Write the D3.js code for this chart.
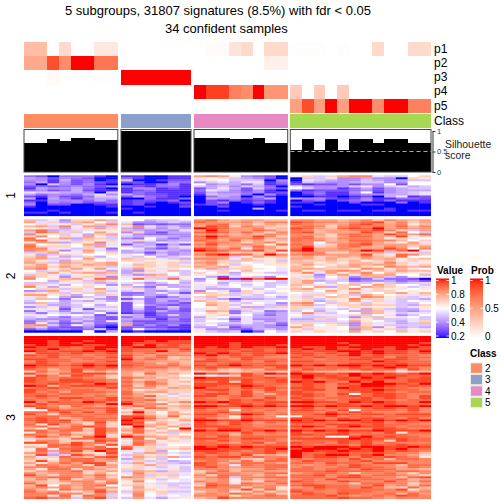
<!DOCTYPE html>
<html><head><meta charset="utf-8">
<script src="https://cdnjs.cloudflare.com/ajax/libs/d3/7.8.5/d3.min.js"></script>
<style>html,body{margin:0;padding:0;background:#fff}svg{display:block}text{font-family:"Liberation Sans",Arial,sans-serif}</style>
</head><body><div id="c"></div>
<script>
// ---------- data ----------
const titleLines = ["5 subgroups, 31807 signatures (8.5%) with fdr < 0.05", "34 confident samples"];
const classes = ["2", "3", "4", "5"];
const classCounts = [8, 6, 8, 12];
const classColors = ["#fc8d62", "#8da0cb", "#e78ac3", "#a6d854"];
const probNames = ["p1", "p2", "p3", "p4", "p5"];
const p1 = [.35,.35,0,.2,0,0,.12,.12,  0,0,0,0,0,0,  0,.02,.02,.15,.2,0,.2,.2,  .01,.01,.01,0,.01,0,0,.2,0,0,.2,.2];
const p2 = [.45,.45,.85,.6,1,1,.7,.7,  0,0,0,0,0,0,  0,0,0,0,0,0,.08,.08,  0,0,0,0,0,0,0,0,0,0,0,0];
const p3 = [0,0,.03,0,0,0,.01,.01,  1,1,1,1,1,1,  0,0,0,0,0,0,0,0,  0,0,0,0,0,0,0,0,0,0,0,0];
const p4 = [0,0,0,0,0,0,0,0,  0,0,0,0,0,0,  1,.9,.9,.65,.6,1,.55,.55,  .28,0,.28,0,.28,0,0,0,0,0,0,0];
const p5 = [0,0,0,0,0,0,0,0,  0,0,0,0,0,0,  0,0,0,0,0,0,0,0,  .5,.85,.5,1,.5,1,1,.6,1,1,.65,.65];
const silhouette = [.7,.7,.8,.755,.83,.83,.78,.78,  .99,.99,.99,.99,.99,.99,  .83,.83,.83,.8,.8,.83,.71,.71,  .54,.8,.54,.8,.54,.8,.8,.71,.8,.8,.71,.71];
const blockNames = ["1", "2", "3"];
// heat values, one letter per sample: a=0.20, b=0.25 ... i=0.60 ... q=1.00
const block1 = [
"dcadddba bbaabb mnmjedca jkgkmnnhggik",
"fecedcaa dbaabb hihgfeca aggheefeeakj",
"eebfcdab gaabcc hjigggae ahgfeegfefgg",
"dfbecdcb ccaadd eghfhhbd bgfeefggeeii",
"eageceba abbdeb ieffdgbc cbcceceeicii",
"cdcdedce dcbddb gfgegfda hfeeegheghfg",
"bfeefdba beebcb cfhfcgdc igeebdfcefgg",
"decdfcbb bcdbbb dhgeceba dbcccdecefff",
"hggffeag bdcbbb cfeedebc acdbbeibefgh",
"fdeedfhe fdccbb bgffdaeb abdbbdeeffgh",
"cbeccdgg cfdcba adfeaeba aabbabcafhbc",
"fafdbeff aadbbd afeecdfa feecbcebbddc",
"bbeeedfd bcccda acbdbcba acdacdebdbbb",
"daedeccd bcbabc aceabdba bbaaacaaadab",
"eaccaabb bcaaab bcbaabaa aabaaabbaaaa",
"baaaaaab aabaac aacaaaaa baaaaaaaaaaa",
"aaaaaaaa baaaaa aaaaafaa aaaaaaaabaaa",
"aabaaaaa aaaaaa aabaaaab abbabbabbabb",
"bbabaaab abaaaa aaaaaaaa aaaaaaaaaaaa",
"aaaaaaaa aaaaaa aaaaaaaa aaaaaaaaaaaa"];
const block2 = [
"lghekkml iifggh nomlmmll nnmmlmnlnmlm",
"mhkflmig heefgf onmmnlnn ponnmnoplnkm",
"ikhjgjln lcdcdd mnolmkml onmlmopnmnjl",
"lmgnjmfg hnhfge mpoknmlk nonknonomoln",
"jjkfhkmk fegegf qpommnkl pomlopoqmnmm",
"mofgkhjj lfefeh mqnmmonl onlmmnopnkgm",
"gomkgimh ekecff opomomkn oplmmmpnkoig",
"njjgjfkm heddee mnmlmlnm nmmknonmpnmo",
"knikhmjg gfggfe oqommpnk nolkmoomlpjk",
"oikmflkg edifdf npmnnolm oomlnnnmjkhi",
"nohjgkjk gkheff onmolmkl onnlmoonnlik",
"jmmfkjnh gefhgh monmkmnk nnimmnomkjmh",
"nijhimfh cgfbfc npmmnmjo onhknopmmmlk",
"okkkikmj kfgegh mnlmlomk npklnomlnmkm",
"nnhjgkhd ihecfg pomohnmk oqmmnmmmpnin",
"nmkehmhf fgfgfe qponnplp pqmmmnqpmoqj",
"gkmijlik ffcfef mnmklkmj mnnkkmlmgkhg",
"jfgkhiij hiegef npqoolqn nonmmmpkjonk",
"kmjfgkfi hgifgh lmmgjmkl lmklmlnlkoii",
"lmgkimjh lkkhgf nnmjljjk mmkmkkmlmjkl",
"ljhfkkij kkjjjk lmkglkjg lkklkljkljkj",
"mkgmlklm ihkjkg mnkkihjk lljkjllknkhj",
"kmjlkmlm jlkjkh lmjgjijj kmkjkmlmmkjk",
"lmkmkkkg hkkjkk mlmjkiij lkiklmkjnmlm",
"mnjkmjmj gmjhhi kmgkkjih lmlkkjnmjlhi",
"ighlhjhf fekjlg ihkiliih mjkmnmjlkmll",
"jkmjlmml fkhhig kikfjjgg knhmjlnilkjh",
"gkhgjjgk gemlig hjjgiiih jjekmjmlmiil",
"mkjehkke hhgkgj ifchhgei hkfikelmgejh",
"nijlmjon jokgoj ejqcqoqq kjgjgcdgddca",
"iifkjglj iihiig fihgfhig kmfggdeefdec",
"gggjhkfg hgegif jifjhigg kmigiggjgfgk",
"lkjfihje fifefg hjgigigh lkhjklimkiig",
"nhfjjkij kfdjff hghihhgi kimfkimlkjgh",
"ikkgkhmh hkfhig hfffigij lmjjknjkjjij",
"efmhkhkg ghfegf eihekjhi kkimjkhkkiji",
"kjkgjklh ddfhfc lkjgkjgh ihhkjmjikmjl",
"mmjkfigk defehg ikkghgih jkkikgmkihhk",
"hkifeghe gieceg kljhgghf hgjlkjnmjkgh",
"hlgdjjfe cfdffe hgfcffgg jkgjjnkkjggf",
"giifgfhf ghdfdf lkjfjhhi jkfkjmjkhgih",
"flgfhjhi chdeec ilkhgihe mnigkjgjhggi",
"hkffgifj ciedcd imkgjjgf lmgjkklkkgfk",
"egheghgg chcegd ijkjffgk kkhijkhjjghj",
"hhjchchh cgccfc hjkgkghh khghgjmkgffj",
"dhgehgfg cecfdc hmldghde gifhifflhfeg",
"gdhgefic bdbddd ikjdhgef jnkgiimljghh",
"hhihihcg gfbdgd jjkhifdf ighhhkgihegi",
"ghfdgfdc dfccdd fjifhfff hggkhekljhig",
"feeefgdc feebec ghgcheef ffkgikjggghg",
"dfgdgedh ecccdc giiehgef gggghmjigfhk",
"djecdgdd fdcddd hhgghfgd kkhkgekhhfgl",
"mngdjfcb mceceb gifeffec jlijkekjgggg",
"mgdcceba cdccbb ffhcefee mkjjimlejfgf",
"cecdcdgb ciedcb heedcfge jgjjieljkgjh",
"aaaaaiaf abaaaa jgfgacig kjkjjmjkiljk"];
const block3 = [
"qqqqqqqq qqqqqq qqqqqqqq qqqqqqqqqqqq",
"qqqqqqqq qqqqqq qqqqqqqq qqqqqqqqqqqq",
"qqpqqpqq qqpqpp qqqqqqqq qqqqqqqqqqqq",
"qqpqpqqq qppppp qqqpqqqq qqqqpqqqqqqp",
"pqpqqppq qoqopo qqqpqqqp qqqqqpqqqqpq",
"qpppopqq pqqppo qpqpqppq qppqpqqqpqqp",
"ppqoopqp pooonp ppppopop pqpqppqppqpp",
"qpoppqpq pooqno pppoppop poppqqpqppoq",
"lppopoop onomnm qpqpoppq ppopoqpqppop",
"popoonoo pnmonn pqopopon opoopqopooon",
"oopnoonp pmnokl oonoponn popoooppnpoo",
"ppoonooo qnonlm nponpooo oonooppoppon",
"npoonnop onmmml ppooonpo ppoooooqpooo",
"oponopoo oonlnl onopooon ooonoppoppoo",
"qppopqpq ponnom popqpopp qpqpqqpqpqpp",
"ponnopop onoomn oponoonp oonoopopqpon",
"onlnpnon nnmmlm nolkmloo npoonopoolpn",
"kommplmk mlmlkk klkklmlk omlllklmlhkl",
"pmlooppn mkolmk qopnpnqp qppopqpqpopq",
"kpnlpomk mkllki jihkpolm pqppoqppppoo",
"ponoonnk onmklk qppooopo pqoppoqpqoop",
"ponppoon nklmkj pppopoop opnoppppoopp",
"poopppon omomkl onpkpnop qpqonqoqoopp",
"ooponoqp nlonkj pppppooo oponpoqqqpoq",
"qplopppo oknlkl ppooqpon oponopqqpopo",
"noponnnp nmmkml qoonpopo pponqpppoonn",
"ponnoonm njklkk oppnonpn oppnoppqpoon",
"pnomooon olmmkk ononpmoo ponnoopponoo",
"oonoonnm omkjgh oppnpnlo pponpiopponn",
"oponnnon nmokjk ppnopnon oponopopponp",
"nonpponp onlkkj onnonnpn ponooopoponp",
"onnonoop nnolkk oonpopon oponoppoonoo",
"qnpooqpn pnmjln qpqpoopp qqppoqpqpooq",
"npnooonq qmnnjk oonppopo opoopooppooo",
"ponlonmn monklm qqppqpqp qqpqppqpqqpq",
"jpomnoop lkonkl ponmoonn opnoonoppopn",
"iipoonnp jmklkk onojonon pponpiooonpn",
"oonpnpnp lqlimj oopnoonn oonpnponnnon",
"pnkoonoo knljml ppnoqpno oopqpoppoppp",
"noonoonn ppnkoj oonjonni joopnoonoooo",
"opolmooo pqolkk pnmkponn pponpopponpn",
"opopmoon qomkjm qqppqppp qpqpqqpqpqpq",
"npoolkpk ppjlkh ponpomon ppoonoppnoon",
"ojpmnkok qolmjl ponponnn ooopppopoonn",
"nokmopok jqmkmk pppoonoo pqpnpqpponoo",
"ljonokpn lojliq onppoonn oonoonnpponn",
"oomoolpn moljlm qpqqopqp qpqpqppqpppq",
"jonnkkpm koklgk oonmpnon pnoopoonpjoo",
"onlomlpk nlkjki ooolonnn ppoppnoooonn",
"mpnmkoqk qomlkl onpnoooo onoiipqopoon",
"kllkooon kojmjk pponppon pppppqppopoo",
"jnnkkkpo jnmjkh onpnonon nooopopokpoo",
"ppnlpnol homhjj oonmopmo poonpopnonnn",
"jjoopnkp kolkii oopoonoo oonoonpoopoo",
"lkonomoj okkhjk qpqpqppp qpqqqpqqppqp",
"johoooop phkkkl qqpppopq pqqqpqpqpqoo",
"jomnplqo hjkfij ppponopo qqppqppqopon",
"mngnmkjp jgmlhg oponoopn qooppooponnl",
"kpfgpnkn gljkih ononplml qopqqopqnnmk",
"mhkomlop hmkgmg poppnonn qopponpoponj",
"lkjnoomn fljgii oonnlkno onoonpnoloon",
"kpknoomm hkgkfg nonloloo npoonopnnnnn",
"mjmomppk gmhggf pomnoonm oonpoonpppnn",
"konmnkpm jkmkhh ponhonoo nmnonponnloo",
"nnonnnlm jkhgjg opnmnnoo nonnopoonmon",
"mjooknmk kkjhhg nnnlmmon oonoonpoomml",
"kmnnoklm gmlfkg kmolnnmm ooopoooonoon",
"nlmnnkmj hnkkkh lonnmmoo mnoonknnomkn",
"pmknnmol jmgkgh nkonnlnl oopnopnoonmk",
"mnoonlnk nmkjki mnognnoo ooonpponnlop",
"lnkokmnm kljgjh lmnjnlmn nonpnnoonolm",
"mlkmnnkn jnihih nmnjlkon ponnponnpnmo",
"olkkmnmo jkhkgg lonhonmo nonnnkoonnkm",
"lpinmnoi kljhgh kponnmnm oppoonnpmnlo",
"mnmnlnlm imjhkg nonnknnj mnpoonpnlkol",
"nliomnok jlkjhh mmnlpkok ononoooonpjm",
"omnkjlpm gmjkgg kmnjknkm ponnooonnnmn",
"nnonnkng hnikhh mnmonlnk nponponnolom",
"nnhojonk inihih nnnjmnon ooopnmnonpon",
"opnngnpg gmhfhj lmpnnnnn oooopoonmnnn"];
// ---------- layout ----------
const W = 504, H = 504;
const svg = d3.select("#c").append("svg").attr("width", W).attr("height", H);
const groupX = [[24, 117.8], [121, 191], [194, 287.7], [290.3, 431]];
const groupOf = [], idxOf = [];
classCounts.forEach((n, g) => d3.range(n).forEach(i => { groupOf.push(g); idxOf.push(i); }));
const xs = groupX.map((r, g) => d3.scaleBand().domain(d3.range(classCounts[g])).range(r));
const colX = k => xs[groupOf[k]](idxOf[k]);
const colW = k => xs[groupOf[k]].bandwidth();
const heat = d3.scaleLinear().domain([.2, .6, 1]).range(["#0000ff", "#ffffff", "#ff0000"]).interpolate(d3.interpolateLab);
const prob = d3.scaleLinear().domain([0, 1]).range(["#ffffff", "#ff0000"]).interpolate(d3.interpolateLab);
const decode = ch => .2 + (ch.charCodeAt(0) - 97) * .05;

// titles
svg.selectAll("text.title").data(titleLines).join("text").attr("class", "title")
  .attr("x", (d, i) => [65, 165][i]).attr("y", (d, i) => [15, 33][i])
  .attr("font-size", 13).attr("fill", "#000").text(d => d);

// probability annotation rows
const probRows = [p1, p2, p3, p4, p5];
const yProb = d3.scaleBand().domain(probNames).range([42, 113]);
probRows.forEach((row, r) => {
  svg.append("g").selectAll("rect").data(row).join("rect")
    .attr("x", (d, k) => colX(k)).attr("width", (d, k) => colW(k) + .4)
    .attr("y", yProb(probNames[r])).attr("height", yProb.bandwidth() + .3)
    .attr("shape-rendering", "crispEdges").attr("fill", d => prob(d));
});
svg.append("g").selectAll("text").data(probNames).join("text")
  .attr("x", 434).attr("y", d => yProb(d) + yProb.bandwidth() / 2 + 3.6)
  .attr("font-size", 12).text(d => d);

// class bar
svg.append("g").selectAll("rect").data(classes).join("rect")
  .attr("x", (d, g) => groupX[g][0]).attr("width", (d, g) => groupX[g][1] - groupX[g][0])
  .attr("y", 114).attr("height", 14).attr("shape-rendering", "crispEdges")
  .attr("fill", (d, g) => classColors[g]);
svg.append("text").attr("x", 434).attr("y", 125).attr("font-size", 12).text("Class");

// silhouette
const ySil = d3.scaleLinear().domain([0, 1]).range([172, 131]);
svg.append("g").selectAll("rect").data(silhouette).join("rect")
  .attr("x", (d, k) => colX(k)).attr("width", (d, k) => colW(k) + .4)
  .attr("y", d => ySil(d)).attr("height", d => ySil(0) - ySil(d))
  .attr("shape-rendering", "crispEdges").attr("fill", "#000");
svg.append("g").selectAll("rect").data(classes).join("rect")
  .attr("x", (d, g) => groupX[g][0]).attr("width", (d, g) => groupX[g][1] - groupX[g][0])
  .attr("y", 129.5).attr("height", 42.5).attr("fill", "none").attr("stroke", "#444").attr("stroke-width", 1);
svg.append("line").attr("x1", 290.5).attr("x2", 431).attr("y1", ySil(.5)).attr("y2", ySil(.5))
  .attr("stroke", "#aaa").attr("stroke-width", 1).attr("stroke-dasharray", "4 3");
const axisG = svg.append("g").attr("transform", "translate(432.5,0)")
  .call(d3.axisRight(ySil).tickValues([0, .5, 1]).tickSize(3).tickSizeOuter(0).tickPadding(1.5).tickFormat(d3.format("~g")));
axisG.selectAll("line,path").attr("stroke", "#333");
axisG.selectAll("text").attr("font-size", 7.5).attr("font-family", '"Liberation Sans",Arial,sans-serif').attr("fill", "#333");
svg.append("g").selectAll("text").data(["Silhouette", "score"]).join("text")
  .attr("x", 445).attr("y", (d, i) => 148 + i * 11).attr("font-size", 10.4).attr("fill", "#222").text(d => d);

// heat blocks
const blocks = [block1, block2, block3];
const blockY = [[175.3, 215.7], [219.3, 332.3], [336, 498.7]];
blocks.forEach((rows, b) => {
  const yR = d3.scaleBand().domain(d3.range(rows.length)).range(blockY[b]);
  const g = svg.append("g");
  rows.forEach((row, r) => {
    const vals = Array.from(row.replace(/ /g, ""), decode);
    g.append("g").selectAll("rect").data(vals).join("rect")
      .attr("x", (d, k) => colX(k)).attr("width", (d, k) => colW(k) + (idxOf[k] === classCounts[groupOf[k]] - 1 ? 0 : .4))
      .attr("y", yR(r)).attr("height", yR.bandwidth() + .4)
      .attr("fill", d => heat(d));
  });
  svg.append("text").attr("transform", `translate(15,${(blockY[b][0] + blockY[b][1]) / 2}) rotate(-90)`)
    .attr("text-anchor", "middle").attr("font-size", 12).text(blockNames[b]);
});

// legends
function gradientLegend(id, x, title, scale, domain, ticks, fmt) {
  const y0 = 278.5, y1 = 338;
  const yL = d3.scaleLinear().domain(domain).range([y1 - 2, y0 + 2]);
  const grad = svg.append("defs").append("linearGradient").attr("id", id).attr("x1", 0).attr("x2", 0).attr("y1", 1).attr("y2", 0);
  grad.selectAll("stop").data(d3.range(0, 1.001, .05)).join("stop")
    .attr("offset", d => d).attr("stop-color", d => {
      const v = domain[0] + (domain[1] - domain[0]) * d;
      return scale(v);
    });
  svg.append("rect").attr("x", x).attr("y", y0).attr("width", 13).attr("height", y1 - y0).attr("fill", `url(#${id})`);
  svg.append("g").selectAll("line").data(ticks.flatMap(t => [[t, x, x + 2.6], [t, x + 10.4, x + 13]])).join("line")
    .attr("x1", d => d[1]).attr("x2", d => d[2]).attr("y1", d => yL(d[0])).attr("y2", d => yL(d[0]))
    .attr("stroke", "#fff").attr("stroke-width", .8);
  svg.append("g").selectAll("text").data(ticks).join("text")
    .attr("x", x + 15).attr("y", d => yL(d) + 3.6).attr("font-size", 10).text(fmt);
  svg.append("text").attr("x", x + 1).attr("y", 274).attr("font-size", 10).attr("font-weight", "bold").text(title);
}
gradientLegend("gv", 436, "Value", heat, [.2, 1], [.2, .4, .6, .8, 1], d3.format("~g"));
gradientLegend("gp", 470, "Prob", prob, [0, 1], [0, .5, 1], d3.format("~g"));
svg.append("text").attr("x", 470).attr("y", 357).attr("font-size", 10).attr("font-weight", "bold").text("Class");
const yLeg = d3.scaleBand().domain(classes).range([362.4, 408.2]);
svg.append("g").selectAll("rect").data(classes).join("rect")
  .attr("x", 470.5).attr("y", d => yLeg(d) + .5).attr("width", 12).attr("height", yLeg.bandwidth() - 1)
  .attr("stroke", "#eee").attr("stroke-width", 1).attr("fill", (d, g) => classColors[g]);
svg.append("g").selectAll("text").data(classes).join("text")
  .attr("x", 485).attr("y", d => yLeg(d) + yLeg.bandwidth() / 2 + 3.6).attr("font-size", 10).text(d => d);
</script></body></html>
